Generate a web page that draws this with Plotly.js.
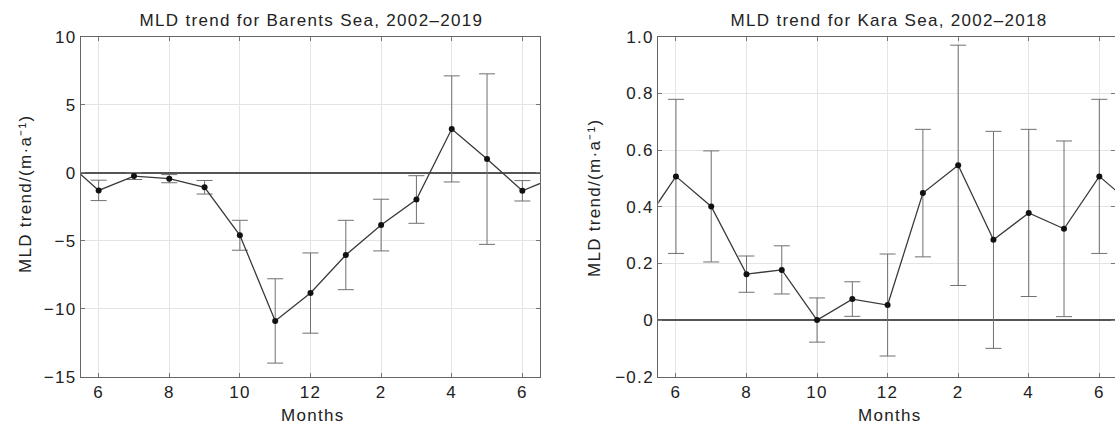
<!DOCTYPE html>
<html>
<head>
<meta charset="utf-8">
<script src="https://cdn.plot.ly/plotly-3.0.1.min.js"></script>
<style>
  html, body { margin: 0; padding: 0; background: #fff; }
  #chart { width: 1115px; height: 426px; }
  #chart svg text { letter-spacing: 1.3px; }
</style>
</head>
<body>
<div id="chart"></div>
<script>
// Month sequence (cyclic, one month of padding at each end, clipped by axis range)
const months = [5, 6, 7, 8, 9, 10, 11, 12, 1, 2, 3, 4, 5, 6, 7];

// Barents Sea MLD trend (m/a) and error half-widths
const barentsTrend = [1.0, -1.3, -0.25, -0.44, -1.07, -4.6, -10.9, -8.85, -6.05, -3.85, -1.97, 3.22, 1.0, -1.33, -0.25];
const barentsErr   = [6.27, 0.75, 0.25, 0.3, 0.5, 1.1, 3.1, 2.95, 2.55, 1.9, 1.75, 3.9, 6.27, 0.75, 0.25];

// Kara Sea MLD trend (m/a) and error half-widths
const karaTrend = [0.322, 0.507, 0.401, 0.162, 0.177, 0.0, 0.074, 0.053, 0.448, 0.546, 0.283, 0.378, 0.322, 0.507, 0.401];
const karaErr   = [0.31, 0.272, 0.196, 0.064, 0.085, 0.078, 0.061, 0.18, 0.225, 0.424, 0.383, 0.295, 0.31, 0.272, 0.196];

// Tick labels
const xTickLabels = ['6', '8', '10', '12', '2', '4', '6'];
const karaYTicks = [-0.2, 0, 0.2, 0.4, 0.6, 0.8, 1.0];
const karaYTickText = ['\u22120.2', '0', '0.2', '0.4', '0.6', '0.8', '1.0'];

const titles = ['MLD trend for Barents Sea, 2002\u20132019', 'MLD trend for Kara Sea, 2002\u20132018'];
const yTitle = 'MLD trend/(m\u00b7a\u207b\u00b9)';
const xTitle = 'Months';

// positions: index along the month sequence, first padded month at -1
const xIdx = months.map((m, i) => i - 1);
const xTickVals = xTickLabels.map((t, i) => i * 2);

const W = 1115, H = 426;
const px = v => v / W;
const py = v => 1 - v / H;

const FONT = 'Liberation Sans, Arial, Helvetica, sans-serif';
const TXT = '#222';

function trace(y, err, xa, ya) {
  return {
    x: xIdx, y: y, xaxis: xa, yaxis: ya,
    type: 'scatter', mode: 'lines+markers',
    line: { color: '#3a3a3a', width: 1.3 },
    marker: { color: '#111', size: 6 },
    error_y: { type: 'data', array: err, visible: true, color: '#707070', thickness: 1, width: 8 },
    cliponaxis: true, showlegend: false, hoverinfo: 'skip'
  };
}

const axisCommon = {
  showline: true, linecolor: '#666', linewidth: 1, mirror: 'ticks',
  ticks: 'inside', ticklen: 4, tickcolor: '#777', tickwidth: 1,
  showgrid: true, gridcolor: '#e4e4e4', gridwidth: 1,
  tickfont: { family: FONT, size: 17, color: TXT },
  fixedrange: true
};

const plotTop = 36.7, plotBottom = 376.7;
const leftX = [81, 540];
const rightX = [658.3, 1115];
const pxPerMonthRight = 35.28;

const layout = {
  width: W, height: H,
  margin: { l: 0, r: 0, t: 0, b: 0 },
  paper_bgcolor: '#fff', plot_bgcolor: '#fff',
  font: { family: FONT, size: 17, color: TXT },
  xaxis: Object.assign({}, axisCommon, {
    domain: [px(leftX[0]), px(leftX[1])], range: [-0.5, 12.5],
    tickvals: xTickVals, ticktext: xTickLabels, zeroline: false, anchor: 'y'
  }),
  yaxis: Object.assign({}, axisCommon, {
    domain: [py(plotBottom), py(plotTop)], range: [-15, 10],
    tick0: 0, dtick: 5, zeroline: true, zerolinecolor: '#555', zerolinewidth: 2, anchor: 'x'
  }),
  xaxis2: Object.assign({}, axisCommon, {
    domain: [px(rightX[0]), px(rightX[1])],
    range: [-0.5, -0.5 + (rightX[1] - rightX[0]) / pxPerMonthRight],
    tickvals: xTickVals, ticktext: xTickLabels, zeroline: false, anchor: 'y2'
  }),
  yaxis2: Object.assign({}, axisCommon, {
    domain: [py(plotBottom), py(plotTop)], range: [-0.2, 1.0],
    tickvals: karaYTicks, ticktext: karaYTickText,
    zeroline: true, zerolinecolor: '#555', zerolinewidth: 2, anchor: 'x2'
  }),
  annotations: [
    { text: titles[0], xref: 'paper', yref: 'paper', x: px(311), y: py(20), xanchor: 'center', yanchor: 'middle', showarrow: false, font: { family: FONT, size: 17, color: TXT } },
    { text: titles[1], xref: 'paper', yref: 'paper', x: px(889), y: py(20), xanchor: 'center', yanchor: 'middle', showarrow: false, font: { family: FONT, size: 17, color: TXT } },
    { text: yTitle, xref: 'paper', yref: 'paper', x: px(25), y: py(194), xanchor: 'center', yanchor: 'middle', textangle: -90, showarrow: false, font: { family: FONT, size: 17, color: TXT } },
    { text: yTitle, xref: 'paper', yref: 'paper', x: px(594), y: py(198), xanchor: 'center', yanchor: 'middle', textangle: -90, showarrow: false, font: { family: FONT, size: 17, color: TXT } },
    { text: xTitle, xref: 'paper', yref: 'paper', x: px(313), y: py(415), xanchor: 'center', yanchor: 'middle', showarrow: false, font: { family: FONT, size: 17, color: TXT } },
    { text: xTitle, xref: 'paper', yref: 'paper', x: px(890), y: py(415), xanchor: 'center', yanchor: 'middle', showarrow: false, font: { family: FONT, size: 17, color: TXT } }
  ]
};

Plotly.newPlot('chart', [
  trace(barentsTrend, barentsErr, 'x', 'y'),
  trace(karaTrend, karaErr, 'x2', 'y2')
], layout, { displayModeBar: false, staticPlot: true });
</script>
</body>
</html>
